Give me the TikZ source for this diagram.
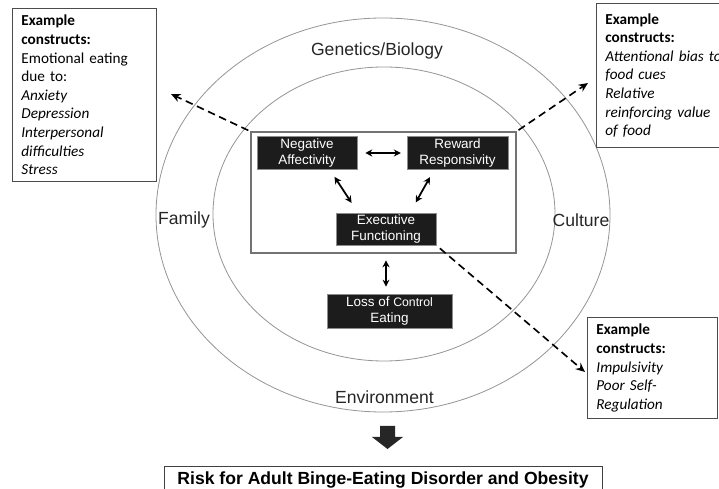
\documentclass[tikz,border=0pt]{standalone}
\usepackage{fontspec}
\setmainfont{Liberation Sans}
\newfontfamily\notefont{Carlito}
\usetikzlibrary{arrows.meta,calc,positioning,fit}
\definecolor{ringgray}{RGB}{150,150,150}
\definecolor{boxblack}{RGB}{28,28,28}
\tikzset{
  every node/.style={font=\rmfamily},
  ring/.style={draw=ringgray, line width=0.7pt},
  ring label/.style={font=\fontsize{15}{18}\selectfont, text=black!85},
  construct/.style={fill=boxblack, draw=black!45, line width=0.5pt, text=white,
    align=center, inner sep=0pt, font=\fontsize{11.5}{13.6}\selectfont},
  core/.style={draw=black!55, line width=1pt, inner sep=0pt},
  note/.style={draw=black!70, line width=0.7pt, anchor=north west, align=left,
    inner xsep=0.27cm, inner ysep=0.2cm, font=\notefont\fontsize{13}{15.9}\selectfont},
  result/.style={draw=black!75, line width=0.8pt, anchor=north, inner ysep=4.3pt,
    text depth=0.4cm, font=\bfseries\fontsize{15}{18}\selectfont},
  link/.style={line width=1.5pt, {Stealth[length=6pt,width=6pt]}-{Stealth[length=6pt,width=6pt]}},
  pointer/.style={line width=1.4pt, dash pattern=on 6.5pt off 4pt, -{Stealth[length=8pt,width=7pt]}}
}

\begin{document}
\begin{tikzpicture}[x=0.03cm, y=-0.03cm]
  \useasboundingbox (0,0) rectangle (719,489);

  \draw[ring] (383,215) ellipse [x radius=6.81cm, y radius=5.91cm];
  \draw[ring] (384,214) ellipse [x radius=5.13cm, y radius=4.41cm];

  \node[ring label] (gen) at (377,51) {Genetics/Biology};
  \node[ring label] (fam) at (184,220) {Family};
  \node[ring label] (cul) at (581,220) {Culture};
  \node[ring label] (env) at (384.5,397) {Environment};

  \coordinate (c1) at (251,132);
  \coordinate (c2) at (516,253);
  \node[core, fit=(c1)(c2)] (coreframe) {};

  \node[construct, minimum width=3cm, minimum height=1cm] (neg) at (307,153) {Negative\\Affectivity};
  \node[construct, minimum width=3.03cm, minimum height=1cm] (rew) at (457.5,153) {Reward\\Responsivity};
  \node[construct, minimum width=3cm, minimum height=0.96cm] (exe) at (386,229) {Executive\\Functioning};
  \node[construct, minimum width=3.75cm, minimum height=1.02cm] (loc) at (389.5,311)
    {Loss of {\fontsize{10.5}{12}\selectfont Control}\\Eating};

  \draw[link, shorten <=6.8pt, shorten >=5pt] (neg) -- (rew);
  \draw[link, shorten <=7pt, shorten >=10pt] ([xshift=0.69cm]neg.south) -- ([xshift=-0.84cm]exe.north);
  \draw[link, shorten <=7pt, shorten >=10pt] ([xshift=-0.705cm]rew.south) -- ([xshift=0.72cm]exe.north);
  \draw[link, shorten <=12.8pt, shorten >=6pt] (exe.south) -- (exe.south |- loc.north);

  \coordinate (tipL) at (171,94);
  \coordinate (tipR) at (588,83);
  \coordinate (tipB) at (585,372);
  \draw[pointer, shorten <=2pt] (coreframe.north west) -- (tipL);
  \draw[pointer, shorten <=2pt] (coreframe.north east) -- (tipR);
  \draw[pointer, shorten <=4pt] (exe.south east) -- (tipB);

  \node[note, text width=3.78cm] (affnote) at (12,8)
    {\textbf{Example}\\\textbf{constructs:}\\Emotional eating\\due to:\\\textit{Anxiety}\\
     \textit{Depression}\\\textit{Interpersonal}\\\textit{difficulties}\\\textit{Stress}};
  \node[note, text width=4.5cm, inner ysep=0.3cm] (rewnote) at (596,3)
    {\textbf{Example}\\\textbf{constructs:}\\\textit{Attentional bias to}\\\textit{food cues}\\
     \textit{Relative}\\\textit{reinforcing value}\\\textit{of food}};
  \node[note, text width=3.36cm] (exenote) at (587,317)
    {\textbf{Example}\\\textbf{constructs:}\\\textit{Impulsivity}\\\textit{Poor Self-}\\\textit{Regulation}};

  \fill[black!85] (380,426) -- (395,426) -- (395,437) -- (403,437) -- (387.5,449)
    -- (372,437) -- (380,437) -- cycle;

  \node[result, minimum width=13.14cm] (risk) at (383,466)
    {Risk for Adult Binge-Eating Disorder and Obesity};
\end{tikzpicture}
\end{document}
